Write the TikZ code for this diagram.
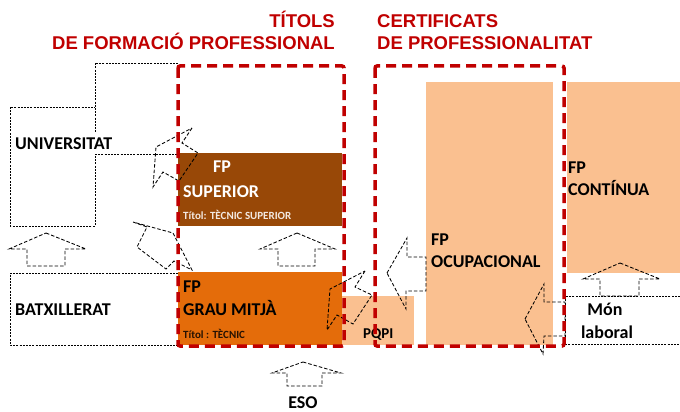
\documentclass[tikz,border=0pt]{standalone}
\usepackage{fontspec}
\usepackage{xcolor}
\newfontfamily\calib{Carlito}
\newfontfamily\arialb{Liberation Sans Bold}
\definecolor{titred}{HTML}{C00000}
\definecolor{fpbrown}{HTML}{984807}
\definecolor{fporange}{HTML}{E46C0A}
\definecolor{fplight}{HTML}{FAC090}

\begin{document}
\begin{tikzpicture}[
        x=1pt, y=-1pt,
        redbox/.style={draw=titred, line width=3.5pt, dash pattern=on 10pt off 6pt, rounded corners=2pt},
        dbox/.style={draw=black, line width=0.7pt, dash pattern=on 2pt off 1.2pt},
        barrow/.style={draw=black, line width=0.85pt, dash pattern=on 3.5pt off 2pt},
        titol/.style={font=\arialb\fontsize{18.5}{22}\selectfont, text=titred, inner sep=0pt},
        lbl/.style={font=\calib\bfseries\fontsize{18}{20}\selectfont, anchor=base west, inner sep=0pt},
        tsmall/.style={font=\calib\bfseries\fontsize{11}{13}\selectfont, anchor=base west, inner sep=0pt}
    ]
        \useasboundingbox (0,0) rectangle (680,412);

        % Caixes de color
        \fill[fplight] (340,296) rectangle (414,345);
        \fill[fpbrown] (178,153) rectangle (342,226);
        \fill[fporange] (178,272) rectangle (342,345);
        \fill[fplight] (426,82) rectangle (553,345);
        \fill[fplight] (567,82) rectangle (680,273);

        % Caixes puntejades
        \draw[dbox] (178,63) -- (95,63) -- (95,226) -- (10,226) -- (10,107) -- (95,107);
        \draw[dbox] (95,154) -- (178,154);
        \draw[dbox] (178,273) -- (10,273) -- (10,345) -- (178,345);
        \draw[dbox] (680,296) -- (565,296) -- (565,344) -- (680,344);

        % Fletxes
        \draw[barrow] (46,233) -- (86,249) -- (65,249) -- (65,266) -- (27,266) -- (27,249) -- (9,249) -- cycle;
        \draw[barrow] (297,233) -- (335,249) -- (315,249) -- (315,266) -- (278,266) -- (278,249) -- (260,249) -- cycle;
        \draw[barrow] (303,362) -- (341,373) -- (322,373) -- (322,386) -- (287,386) -- (287,373) -- (272,373) -- cycle;
        \draw[barrow] (620,263) -- (660,279) -- (639,279) -- (639,296) -- (600,296) -- (600,279) -- (583,279) -- cycle;
        \draw[barrow] (525,319) -- (544,284) -- (544,302) -- (565,302) -- (565,336) -- (544,336) -- (543,354) -- cycle;
        \draw[barrow] (387,273) -- (407,238) -- (407,257) -- (426,257) -- (426,291) -- (406,291) -- (406,309) -- cycle;
        \draw[barrow] (192,128) -- (182,143) -- (198,153) -- (179,181) -- (163,172) -- (153,187) -- (156,147) -- cycle;
        \draw[barrow] (133,222) -- (147,227) -- (137,247) -- (166,269) -- (174,261) -- (192,270) -- (173,233) -- cycle;
        \draw[barrow] (365,271) -- (355,287) -- (372,295) -- (353,324) -- (337,315) -- (327,330) -- (330,289) -- cycle;

        % Textos
        \node[lbl, fill=white, text height=17pt, text depth=5pt] (univ) at (15,149) {UNIVERSITAT};
        \node[lbl] (batx) at (15,315) {BATXILLERAT};
        \node[lbl, text=white] (fpsup) at (213,172) {FP};
        \node[lbl, text=white] (sup) at (183,197) {SUPERIOR};
        \node[tsmall, text=white!88!fpbrown] (titsup) at (183,219) {Títol: TÈCNIC SUPERIOR};
        \node[lbl] (fpmig) at (183,292) {FP};
        \node[lbl] (mig) at (183,315) {GRAU MITJÀ};
        \node[tsmall, text=black!75!fpbrown] (titmig) at (183,338) {Títol : TÈCNIC};
        \node[lbl, font=\calib\bfseries\fontsize{15}{17}\selectfont] (pqpi) at (363,338) {PQPI};
        \node[lbl] (fpocu) at (431,245) {FP};
        \node[lbl] (ocu) at (431,267) {OCUPACIONAL};
        \node[lbl] (fpcon) at (568,173) {FP};
        \node[lbl] (con) at (568,195) {CONTÍNUA};
        \node[lbl, anchor=base] (mon) at (605,315) {Món};
        \node[lbl, anchor=base] (lab) at (607,338) {laboral};
        \node[lbl, anchor=base] (eso) at (303,408) {ESO};

        % Requadres vermells
        \draw[redbox] (178,66) rectangle (344,346);
        \draw[redbox] (375,66) rectangle (564,346);

        % Titols
        \node[titol, anchor=base east] (tit1) at (335,28) {TÍTOLS};
        \node[titol, anchor=base east] (tit2) at (335,50) {DE FORMACIÓ PROFESSIONAL};
        \node[titol, anchor=base west] (cert1) at (377,28) {CERTIFICATS};
        \node[titol, anchor=base west] (cert2) at (377,50) {DE PROFESSIONALITAT};

\end{tikzpicture}
\end{document}
